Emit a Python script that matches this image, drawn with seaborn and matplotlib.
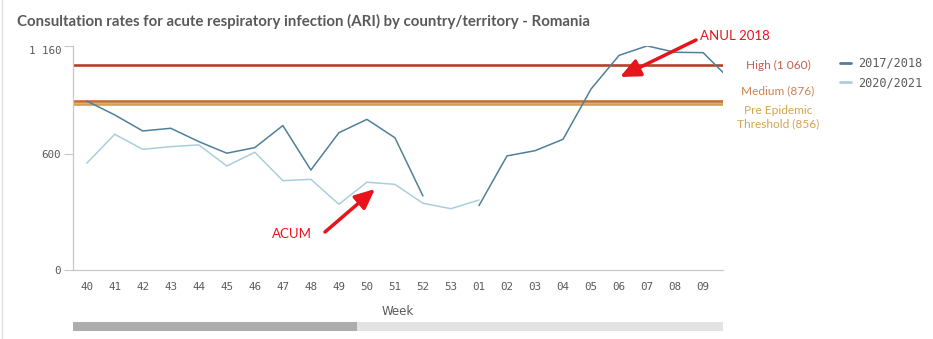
import numpy as np
import pandas as pd
import matplotlib
matplotlib.use("Agg")
import matplotlib.pyplot as plt
import seaborn as sns
from matplotlib.lines import Line2D

# ---------------- data ----------------
weeks = ["40", "41", "42", "43", "44", "45", "46", "47", "48", "49", "50", "51", "52", "53",
         "01", "02", "03", "04", "05", "06", "07", "08", "09", "10"]
season_2017 = [874, 802, 719, 733, 664, 604, 633, 747, 517, 710, 779, 684, 383, np.nan,
               333, 590, 617, 676, 936, 1110, 1159, 1126, 1124, 980]
season_2020 = [552, 702, 624, 638, 647, 538, 609, 462, 469, 340, 454, 443, 345, 317,
               362, np.nan, np.nan, np.nan, np.nan, np.nan, np.nan, np.nan, np.nan, np.nan]
series_names = ["2017/2018", "2020/2021"]
threshold_values = [1060, 876, 856]
threshold_labels = ["High (1 060)", "Medium (876)", "Pre Epidemic\nThreshold (856)"]
y_ticks = [0, 600, 1160]
y_tick_labels = ["0", "600", "1 160"]
visible_week_labels = weeks[:23]

title = "Consultation rates for acute respiratory infection (ARI) by country/territory - Romania"

# ---------------- styling ----------------
DARK = "#4f8099"
LIGHT = "#aacfdb"
line_colors = ["#b5412a", "#c2702f", "#d2a14f"]
label_colors = ["#c0614a", "#cf8350", "#d4a552"]
GREY_TEXT = "#595959"
RED = "#e8141c"

# build long table, splitting series at gaps so lines break
rows = []
for name, vals in zip(series_names, [season_2017, season_2020]):
    seg = 0
    for i, v in enumerate(vals):
        if v is None or (isinstance(v, float) and np.isnan(v)):
            seg += 1
            continue
        rows.append({"idx": i, "value": v, "season": name, "segment": f"{name}-{seg}"})
df = pd.DataFrame(rows)

sns.set_theme(style="white")
plt.rcParams["font.family"] = ["Lato", "DejaVu Sans"]

W, H = 933, 339
fig = plt.figure(figsize=(W / 100, H / 100), dpi=100)
fig.patch.set_facecolor("white")

def fx(px):
    return px / W

def fy(py):
    return 1 - py / H

ax_left, ax_right, ax_top, ax_bottom = 73, 723, 45.7, 270
ax = fig.add_axes([fx(ax_left), fy(ax_bottom), (ax_right - ax_left) / W, (ax_bottom - ax_top) / H])
ax.set_facecolor("white")

# threshold lines
for val, col in zip(threshold_values, line_colors):
    ax.axhline(val, color=col, lw=1.9, zorder=1)

sns.lineplot(data=df, x="idx", y="value", hue="season", units="segment", estimator=None,
             palette={series_names[0]: DARK, series_names[1]: LIGHT},
             hue_order=series_names, linewidth=1.1, ax=ax, legend=False, zorder=3)

ax.set_xlim(-0.49, 22.71)
ax.set_ylim(0, 1160)
ax.set_xticks(range(len(visible_week_labels)))
ax.set_xticklabels(visible_week_labels, family="DejaVu Sans Mono", fontsize=7.8, color=GREY_TEXT)
ax.set_yticks(y_ticks)
ax.set_yticklabels(y_tick_labels, family="DejaVu Sans Mono", fontsize=7.8, color=GREY_TEXT)
ax.get_yticklabels()[-1].set_va("top")
ax.tick_params(axis="x", length=0, pad=9)
ax.tick_params(axis="y", length=6.5, width=0.8, color="#c8c8c8", pad=2, left=True)
ax.set_xlabel("Week", family=["Liberation Sans Narrow", "DejaVu Sans"], fontsize=8.5,
              color=GREY_TEXT, labelpad=9)
ax.set_ylabel("")
for s in ["top", "right"]:
    ax.spines[s].set_visible(False)
for s in ["left", "bottom"]:
    ax.spines[s].set_color("#c8c8c8")
    ax.spines[s].set_linewidth(0.9)

# title
fig.text(fx(17), fy(21), title, fontsize=10.8, fontweight="bold", color=GREY_TEXT,
         ha="left", va="center")

# threshold labels
label_pos = [(778, 65), (778, 91), (778, 117)]
for (px, py), lab, col in zip(label_pos, threshold_labels, label_colors):
    fig.text(fx(px), fy(py), lab, fontsize=8.6, color=col, ha="center", va="center",
             linespacing=1.2)

# legend
legend_handles = [Line2D([0], [0], color=DARK, lw=2), Line2D([0], [0], color=LIGHT, lw=2)]
leg = fig.legend(legend_handles, series_names, loc="upper left",
                 bbox_to_anchor=(fx(829), fy(46)), frameon=False,
                 handlelength=0.9, handletextpad=0.6, labelspacing=0.55,
                 prop={"family": "DejaVu Sans Mono", "size": 8.6})
for t in leg.get_texts():
    t.set_color(GREY_TEXT)

# annotations
fig.text(fx(700), fy(36), "ANUL 2018", fontsize=9.5, color=RED, ha="left", va="center")
fig.text(fx(272), fy(234), "ACUM", fontsize=9.5, color=RED, ha="left", va="center")
arrow_kw = dict(arrowstyle="-|>,head_length=1.0,head_width=0.45", color=RED, lw=2.5,
                shrinkA=0, shrinkB=0, mutation_scale=12)
fig.add_artist(matplotlib.patches.FancyArrowPatch((fx(696), fy(40)), (fx(620), fy(77)),
                                                  transform=fig.transFigure, **arrow_kw))
fig.add_artist(matplotlib.patches.FancyArrowPatch((fx(325), fy(232)), (fx(375), fy(189)),
                                                  transform=fig.transFigure, **arrow_kw))

# scrollbar
fig.add_artist(matplotlib.patches.Rectangle((fx(73), fy(331)), (723 - 73) / W, 9 / H,
                                            transform=fig.transFigure, color="#e3e3e3", lw=0))
fig.add_artist(matplotlib.patches.Rectangle((fx(73), fy(331)), (357 - 73) / W, 9 / H,
                                            transform=fig.transFigure, color="#adadad", lw=0))
# left frame line
fig.add_artist(Line2D([fx(1.5), fx(1.5)], [0, 1], transform=fig.transFigure, color="#e0e0e0", lw=1))

fig.savefig("out.png", dpi=100)
